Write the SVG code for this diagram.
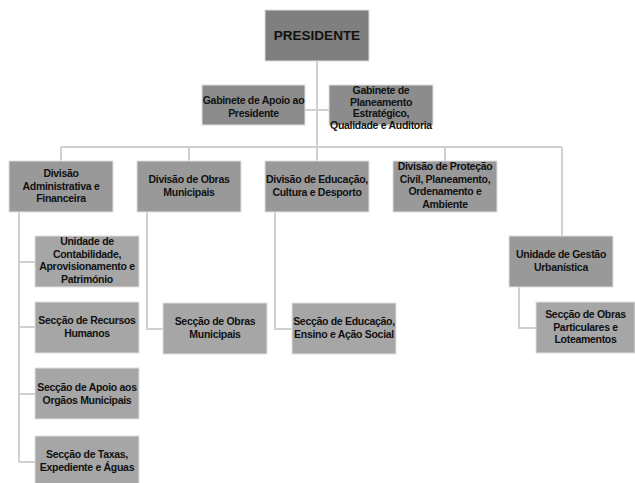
<svg xmlns="http://www.w3.org/2000/svg" width="635" height="483" viewBox="0 0 635 483">
<style>
.b{stroke:#e0e0e0;stroke-width:1}
.p{fill:#7f7f7f}
.g{fill:#8c8c8c}
.d{fill:#999999}
.s{fill:#a6a6a6}
text{font-family:"Liberation Sans",Arial,sans-serif;font-weight:bold;font-size:10.5px;letter-spacing:-0.3px;fill:#111111;text-anchor:middle}
.c{fill:none;stroke:#d0d0d0;stroke-width:2}
</style>
<rect width="635" height="483" fill="#ffffff"/>
<g id="connectors">
<path class="c" d="M317 61V147M305 110H329M61 147H562M61 147V161M189 147V161M317 147V161M445 147V161M562 147V236"/>
<path class="c" d="M19 212V462M19 262H35M19 327H35M19 394H35M19 462H35"/>
<path class="c" d="M147 212V329H163M275 212V329H292M519 287V328H536"/>
</g>
<g id="presidente"><rect class="p b" x="265" y="10" width="104" height="51"/><text x="317" y="40" style="font-size:13.5px;letter-spacing:0">PRESIDENTE</text></g>
<g id="gab-apoio"><rect class="g b" x="202" y="85" width="103" height="40"/><text x="253.5" y="104">Gabinete de Apoio ao</text><text x="253.5" y="116.5">Presidente</text></g>
<g id="gab-planeamento"><rect class="g b" x="329" y="85" width="104" height="40"/><text x="381" y="94">Gabinete de</text><text x="381" y="105.5">Planeamento</text><text x="381" y="117">Estratégico,</text><text x="381" y="128.5">Qualidade e Auditoria</text></g>
<g id="div-admin"><rect class="d b" x="9" y="161" width="104" height="51"/><text x="61" y="177">Divisão</text><text x="61" y="189.5">Administrativa e</text><text x="61" y="202">Financeira</text></g>
<g id="div-obras"><rect class="d b" x="137" y="161" width="104" height="51"/><text x="189" y="183">Divisão de Obras</text><text x="189" y="195.5">Municipais</text></g>
<g id="div-educacao"><rect class="d b" x="265" y="161" width="104" height="51"/><text x="317" y="183">Divisão de Educação,</text><text x="317" y="195.5">Cultura e Desporto</text></g>
<g id="div-protecao"><rect class="d b" x="393" y="161" width="104" height="51"/><text x="445" y="170">Divisão de Proteção</text><text x="445" y="182.5">Civil, Planeamento,</text><text x="445" y="195">Ordenamento e</text><text x="445" y="207.5">Ambiente</text></g>
<g id="unidade-gestao"><rect class="d b" x="509" y="236" width="104" height="51"/><text x="561" y="258">Unidade de Gestão</text><text x="561" y="270.5">Urbanística</text></g>
<g id="unidade-contabilidade"><rect class="s b" x="35" y="236" width="104" height="51"/><text x="87" y="245">Unidade de</text><text x="87" y="257.5">Contabilidade,</text><text x="87" y="270">Aprovisionamento e</text><text x="87" y="282.5">Património</text></g>
<g id="seccao-rh"><rect class="s b" x="35" y="302" width="104" height="51"/><text x="87" y="324">Secção de Recursos</text><text x="87" y="336.5">Humanos</text></g>
<g id="seccao-apoio"><rect class="s b" x="35" y="368" width="104" height="51"/><text x="87" y="391">Secção de Apoio aos</text><text x="87" y="403.5">Orgãos Municipais</text></g>
<g id="seccao-taxas"><rect class="s b" x="35" y="436" width="104" height="51"/><text x="87" y="458">Secção de Taxas,</text><text x="87" y="470.5">Expediente e Águas</text></g>
<g id="seccao-obras-municipais"><rect class="s b" x="163" y="303" width="104" height="51"/><text x="215" y="325">Secção de Obras</text><text x="215" y="337.5">Municipais</text></g>
<g id="seccao-educacao"><rect class="s b" x="292" y="303" width="104" height="51"/><text x="344" y="325">Secção de Educação,</text><text x="344" y="337.5">Ensino e Ação Social</text></g>
<g id="seccao-obras-particulares"><rect class="s b" x="536" y="302" width="99" height="51"/><text x="585.5" y="318">Secção de Obras</text><text x="585.5" y="330.5">Particulares e</text><text x="585.5" y="343">Loteamentos</text></g>
</svg>
